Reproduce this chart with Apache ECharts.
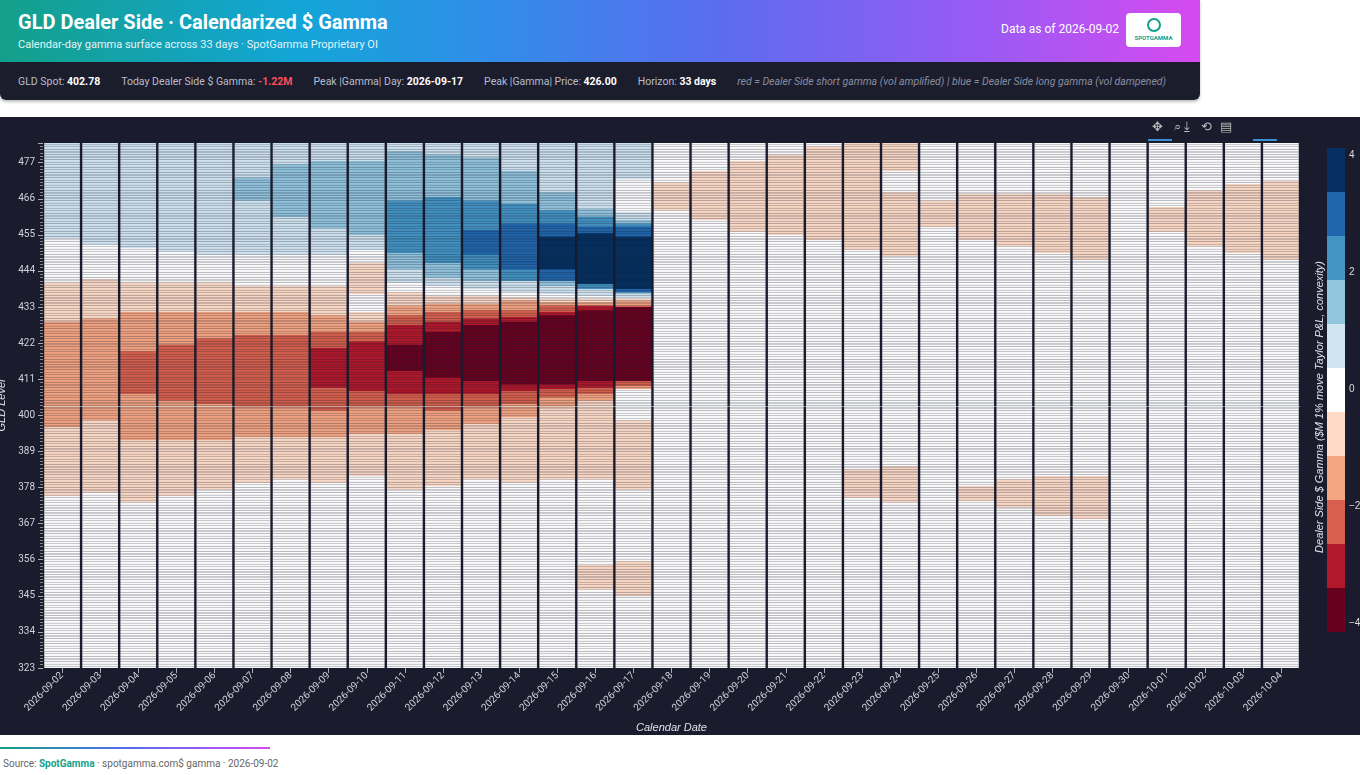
<!DOCTYPE html>
<html><head><meta charset="utf-8">
<script src="https://cdn.jsdelivr.net/npm/echarts@6/dist/echarts.min.js"></script>
<style>
body{margin:0;width:1360px;height:775px;background:#fff;font-family:Roboto,"Liberation Sans",sans-serif;position:relative;overflow:hidden}
#hdr{position:absolute;left:0;top:0;width:1200px;height:100px;border-radius:0 0 6px 6px;overflow:hidden;box-shadow:0 2px 3px rgba(0,0,0,.25)}
#grad{height:62px;background:linear-gradient(90deg,#13a08a 0%,#13a5d8 25%,#2f8ee8 40%,#5b6cf0 60%,#9a5af3 82%,#d64af0 100%);position:relative}
#bar{height:38px;background:#1b1d2d;color:#b8bccb;font-size:10.5px;display:flex;align-items:center;padding-left:18px;white-space:nowrap}
#bar span{margin-right:21px;flex:none}#bar b{color:#fff}
#chart{position:absolute;left:0;top:117px;width:1360px;height:618px;background:#1a1b2d}
</style></head><body>
<div id="hdr"><div id="grad">
<div style="position:absolute;left:18px;top:10px;color:#fff;font-size:20px;font-weight:bold">GLD Dealer Side · Calendarized $ Gamma</div>
<div style="position:absolute;left:18px;top:38px;color:#e4f3f8;font-size:11px">Calendar-day gamma surface across 33 days · SpotGamma Proprietary OI</div>
<div style="position:absolute;left:1001px;top:22px;color:#fff;font-size:12px">Data as of 2026-09-02</div>
<div style="position:absolute;left:1126px;top:13px;width:55px;height:34px;background:#fff;border-radius:4px;text-align:center;font-size:6px;color:#13a08a;font-weight:bold;line-height:1">
<div style="width:14px;height:14px;margin:5px auto 3px;border:2px solid #13a08a;border-radius:50%;box-sizing:border-box"></div>SPOTGAMMA</div>
</div>
<div id="bar"><span>GLD Spot: <b>402.78</b></span><span>Today Dealer Side $ Gamma: <b style="color:#ff4d5e">-1.22M</b></span><span>Peak |Gamma| Day: <b>2026-09-17</b></span><span>Peak |Gamma| Price: <b>426.00</b></span><span>Horizon: <b>33 days</b></span><span style="font-style:italic;color:#8a8ea0">red = Dealer Side short gamma (vol amplified) | blue = Dealer Side long gamma (vol dampened)</span></div>
</div>
<div id="chart"></div>
<div style="position:absolute;left:0;top:747px;width:270px;height:2px;background:linear-gradient(90deg,#13a08a,#5b6cf0,#d64af0)"></div>
<div style="position:absolute;left:3px;top:758px;font-size:10px;color:#666">Source: <b style="color:#13a08a">SpotGamma</b> · spotgamma.com$ gamma · 2026-09-02</div>
<script>
const dates=['2026-09-02','2026-09-03','2026-09-04','2026-09-05','2026-09-06','2026-09-07','2026-09-08','2026-09-09','2026-09-10','2026-09-11','2026-09-12','2026-09-13','2026-09-14','2026-09-15','2026-09-16','2026-09-17','2026-09-18','2026-09-19','2026-09-20','2026-09-21','2026-09-22','2026-09-23','2026-09-24','2026-09-25','2026-09-26','2026-09-27','2026-09-28','2026-09-29','2026-09-30','2026-10-01','2026-10-02','2026-10-03','2026-10-04'];
const levelMin=323, levelMax=483, levelStep=0.5;
const yTicks=[323,334,345,356,367,378,389,400,411,422,433,444,455,466,477];
const spot=402.78;
const binWidth=0.745;
const binColors=['#67001f','#b2182b','#d6604d','#f4a582','#fddbc7','#ffffff','#d1e5f0','#92c5de','#4393c3','#2166ac','#053061'];
// per date: [lower edge, gamma bin] from the top level downward; below the last edge = bin 0
const bands=[
[[454.2,1],[440.4,0],[428.5,-1],[396.4,-2],[375.5,-1]],
[[452.2,1],[441.4,0],[429.5,-1],[398.4,-2],[376.5,-1]],
[[451.2,1],[440.4,0],[431.5,-1],[419.6,-2],[406.4,-3],[392.3,-2],[373.4,-1]],
[[450.2,1],[440.4,0],[431.5,-1],[421.3,-2],[404.3,-3],[392.3,-2],[375.5,-1]],
[[449.2,1],[440.4,0],[431.5,-1],[423.4,-2],[403.3,-3],[392.3,-2],[377.3,-1]],
[[472.5,1],[465.4,2],[449.2,1],[439.4,0],[431.5,-1],[424.4,-2],[402.5,-3],[393.3,-2],[379.3,-1]],
[[476.4,1],[460.3,2],[449.2,1],[439.4,0],[431.5,-1],[424.4,-2],[402.5,-3],[393.3,-2],[380.4,-1]],
[[477.4,1],[457.2,2],[449.2,1],[439.4,0],[430.5,-1],[425.4,-2],[420.3,-3],[408.4,-4],[401.5,-3],[393.3,-2],[379.3,-1]],
[[477.4,1],[455.2,2],[450.4,1],[446.5,0],[437.1,-1],[431.5,0],[428.5,-1],[425.4,-2],[422.4,-3],[407.4,-4],[402.5,-3],[394.3,-2],[381.4,-1]],
[[480.5,1],[465.4,2],[449.4,3],[444.3,2],[440.4,1],[437.6,0],[433.6,-1],[430.5,-2],[427.5,-3],[421.3,-4],[413.4,-5],[406.4,-4],[402.5,-3],[394.3,-2],[377.3,-1]],
[[479.4,1],[466.4,2],[446.3,3],[442.2,2],[439.4,1],[436.6,0],[434.1,-1],[431.5,-2],[428.5,-3],[425.4,-4],[411.5,-5],[406.4,-4],[401.5,-3],[395.3,-2],[378.3,-1]],
[[478.4,1],[465.4,2],[456.5,3],[448.9,4],[444.3,3],[441.2,2],[438.7,1],[436.6,0],[434.1,-1],[432,-2],[429.5,-3],[427.5,-4],[410.4,-5],[406.4,-4],[402.5,-3],[397.4,-2],[380.4,-1]],
[[474.3,1],[464.7,2],[458.5,3],[444.3,4],[441.2,3],[437.6,1],[436.1,0],[435.1,-1],[432,-2],[430,-3],[428.5,-4],[409.4,-5],[407.6,-4],[403.5,-3],[399.4,-2],[379.3,-1]],
[[468.2,1],[462.3,2],[458.5,3],[454.5,4],[444.3,5],[441.2,4],[439.7,2],[437.1,1],[435.6,0],[434.6,-1],[433.5,-2],[431.5,-3],[430.5,-4],[409.4,-5],[408,-4],[405.5,-3],[402.5,-2],[380.4,-1]],
[[463.1,1],[460.4,2],[457.3,3],[455.5,4],[440.2,5],[438.7,3],[436.6,1],[435.6,0],[434.6,-1],[433.5,-2],[432,-4],[410.4,-5],[408.6,-4],[406.6,-3],[404.5,-2],[380.4,-1],[354.7,0],[347.0,-1]],
[[471.8,1],[462.1,0],[459.6,1],[458.5,2],[457.3,3],[454.5,4],[438.7,5],[437.5,4],[436.8,2],[436.1,1],[435.4,0],[434.8,-1],[433.6,-2],[433,-3],[410.6,-5],[409.1,-3],[408,-2],[398.4,0],[377.3,-1],[355.6,0],[344.9,-1]],
[[470.9,0],[462.6,-1]],
[[474.6,0],[459.6,-1]],
[[477.6,0],[456.2,-1]],
[[479.4,0],[455,-1]],
[[481.9,0],[453.5,-1]],
[[450.7,-1],[383.4,0],[374.9,-1]],
[[474.6,-1],[467.8,0],[448.6,-1],[384.6,0],[373.6,-1]],
[[465.7,0],[457.4,-1]],
[[467.5,0],[453.5,-1],[378.5,0],[373.9,-1]],
[[467.5,0],[451.3,-1],[380.7,0],[371.8,-1]],
[[467.5,0],[449.5,-1],[381.3,0],[369.7,-1]],
[[466.6,0],[447.6,-1],[381.3,0],[368.7,-1]],
[],
[[463.5,0],[456.2,-1]],
[[468.7,0],[451.3,-1]],
[[470.6,0],[449.5,-1]],
[[471.5,0],[447.6,-1]]
];
const cells=[];
bands.forEach((b,ci)=>{
  for(let r=levelMin;r<levelMax;r+=levelStep){
    const c=r+levelStep/2;let up=levelMax,bin=0;
    for(const [lo,bn] of b){if(c>=lo&&c<up){bin=bn;break;}up=lo;}
    cells.push([ci,r,r+levelStep,bin*binWidth]);
  }
});
const pieces=[];
for(let i=5;i>=-5;i--)pieces.push({min:(i-0.5)*binWidth,max:(i+0.5)*binWidth,color:binColors[i+5]});
const chart=echarts.init(document.getElementById('chart'));
const lab={color:'#cfd2dc',fontSize:10,fontFamily:'Roboto'};
chart.setOption({
  backgroundColor:'#1a1b2d',animation:false,
  grid:{left:43,right:60,top:26,bottom:67,outerBoundsMode:'none',containLabel:false},
  xAxis:{type:'category',data:dates,boundaryGap:true,name:'Calendar Date',nameLocation:'middle',nameGap:54,
    nameTextStyle:{color:'#e0e2ea',fontSize:11,fontStyle:'italic'},
    axisLabel:Object.assign({rotate:45,interval:0,margin:6},lab),axisTick:{show:true,alignWithLabel:true,lineStyle:{color:'#aaa'}},axisLine:{show:false},splitLine:{show:false}},
  yAxis:{type:'value',min:levelMin,max:levelMax,interval:11,name:'GLD Level',nameLocation:'middle',nameGap:34,
    nameTextStyle:{color:'#e0e2ea',fontSize:11,fontStyle:'italic'},
    axisLabel:Object.assign({showMaxLabel:false},lab),axisTick:{show:true,lineStyle:{color:'#aaa'}},
    minorTick:{show:true,splitNumber:11,length:3,lineStyle:{color:'#888'}},axisLine:{show:false},splitLine:{show:false}},
  visualMap:{type:'piecewise',seriesIndex:0,dimension:3,pieces:pieces,orient:'vertical',left:1327,top:31,itemWidth:18,itemHeight:44,itemGap:0,padding:0,
    itemSymbol:'rect',showLabel:false,selectedMode:false,textStyle:{color:'#fff'}},
  series:[{type:'custom',data:cells,encode:{x:0,y:[1,2]},clip:true,
    renderItem:function(params,api){
      const x=api.value(0),lo=api.value(1),hi=api.value(2);
      const p1=api.coord([x,hi]),p2=api.coord([x,lo]);const w=api.size([1,0])[0];
      return {type:'rect',shape:{x:p1[0]-w/2+1.2,y:p1[1],width:w-2.4,height:p2[1]-p1[1]},
        style:{fill:api.visual('color'),stroke:'rgba(60,60,75,0.14)',lineWidth:0.4}};
    }},
    {type:'line',data:[],markLine:{silent:true,symbol:'none',label:{show:false},z:10,lineStyle:{color:'#d4eeeb',width:0.7,opacity:0.7,type:'solid'},data:[{yAxis:spot}]}}
  ],
  graphic:[
    {type:'text',left:1349,top:33,style:{text:'4',fill:'#ddd',fontSize:10}},
    {type:'text',left:1349,top:150,style:{text:'2',fill:'#ddd',fontSize:10}},
    {type:'text',left:1349,top:267,style:{text:'0',fill:'#ddd',fontSize:10}},
    {type:'text',left:1349,top:384,style:{text:'−2',fill:'#ddd',fontSize:10}},
    {type:'text',left:1349,top:501,style:{text:'−4',fill:'#ddd',fontSize:10}},
    {type:'text',x:1320,y:290,rotation:Math.PI/2,style:{text:'Dealer Side $ Gamma ($M 1% move Taylor P&L, convexity)',fill:'#e0e2ea',fontSize:11,fontStyle:'italic',align:'center',verticalAlign:'middle'}},
    {type:'text',left:1152,top:4,style:{text:'✥   ⌕ ⤓   ⟲  ▤',fill:'#bbb',fontSize:13}},
    {type:'rect',shape:{x:1148,y:22,width:24,height:2},style:{fill:'#3a8fd0'}},
    {type:'rect',shape:{x:1253,y:22,width:24,height:2},style:{fill:'#3a8fd0'}}
  ]
});
</script></body></html>
